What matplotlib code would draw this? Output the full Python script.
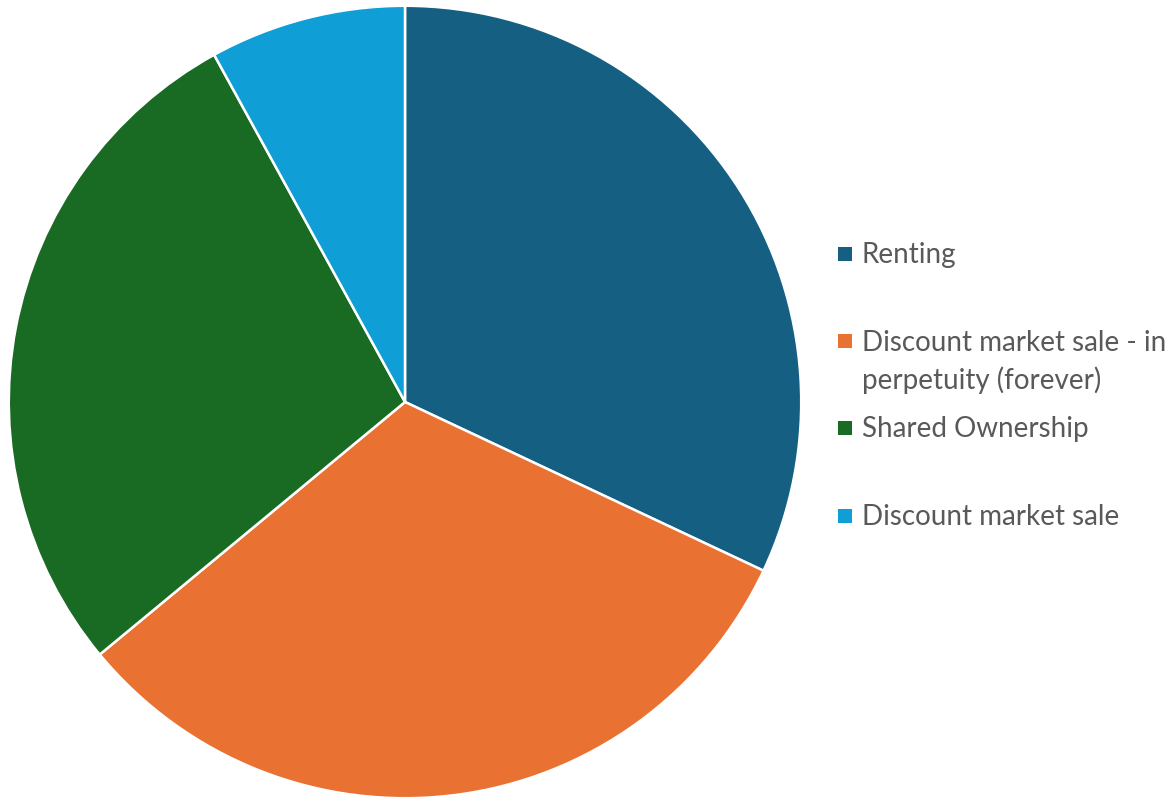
import matplotlib
matplotlib.use("Agg")
import matplotlib.pyplot as plt
from matplotlib.patches import Rectangle

categories = ["Renting", "Discount market sale - in\nperpetuity (forever)", "Shared Ownership", "Discount market sale"]
values = [32, 32, 28, 8]
colors = ["#156082", "#E97132", "#196B24", "#0F9ED5"]

W, H = 1173, 797
fig = plt.figure(figsize=(W / 100, H / 100), dpi=100)
fig.patch.set_facecolor("white")

cx, cy, r = 405, 402, 397
ax = fig.add_axes([(cx - r) / W, (H - cy - r) / H, 2 * r / W, 2 * r / H])
ax.pie(values, colors=colors, startangle=90, counterclock=False, radius=1,
       wedgeprops=dict(edgecolor="white", linewidth=1.8))
ax.set_xlim(-1.002, 1.002)
ax.set_ylim(-1.002, 1.002)
ax.set_aspect("equal")
ax.axis("off")

# legend (manual placement)
text_color = "#595959"
centers = [255, 362, 429, 517]
square_y = [254, 341, 428, 516]
sq = 14
for cat, col, yc, sy in zip(categories, colors, centers, square_y):
    fig.patches.append(Rectangle((838 / W, (H - sy - sq / 2) / H), sq / W, sq / H,
                                 transform=fig.transFigure, facecolor=col, edgecolor="none"))
    fig.text(862 / W, (H - yc) / H, cat, ha="left", va="center", fontsize=20,
             color=text_color, family="Lato", linespacing=1.5)

fig.savefig("out.png", dpi=100, facecolor="white")
